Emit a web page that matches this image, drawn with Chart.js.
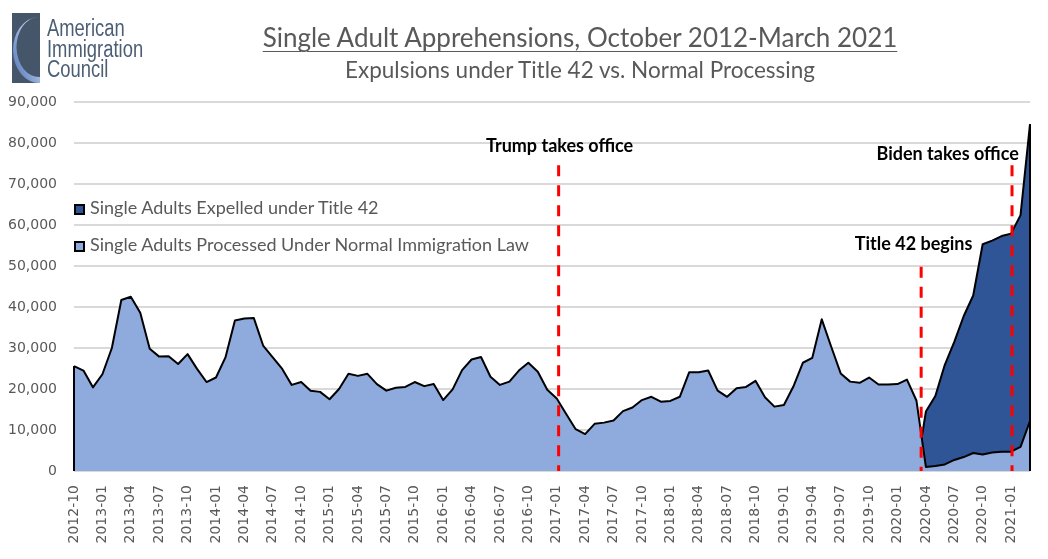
<!DOCTYPE html>
<html>
<head>
<meta charset="utf-8">
<script src="https://cdn.jsdelivr.net/npm/chart.js@4.4.1/dist/chart.umd.min.js"></script>
<style>
  body { margin: 0; background: #fff; }
  #wrap { position: relative; width: 1048px; height: 559px; overflow: hidden; }
  #chart { position: absolute; left: 0; top: 0; }
  .logo { position: absolute; left: 12px; top: 13px; }
  .logo svg { position: absolute; left: 0; top: 0; }
  .logo-text {
    position: absolute; left: 35px; top: 5px; width: 160px;
    font-family: "Liberation Sans", Arial, sans-serif;
    font-size: 23px; line-height: 20.5px; color: #4b5e74;
    transform: scaleX(0.80); transform-origin: left top;
  }
  .title, .subtitle {
    position: absolute; left: 180px; width: 800px; text-align: center;
    font-family: Lato, sans-serif; color: #595959; white-space: nowrap;
  }
  .title { top: 21px; font-size: 26px; text-decoration: underline; text-underline-offset: 4px; text-decoration-thickness: 1px; }
  .subtitle { top: 56px; font-size: 22.5px; }
  .legend { position: absolute; left: 74px; top: 196px; font-family: Lato, sans-serif; font-size: 18px; color: #595959; }
  .legend div { height: 37px; line-height: 22px; white-space: nowrap; }
  .legend span.box {
    display: inline-block; width: 11px; height: 11px; box-sizing: border-box;
    border: 2px solid #000; margin-right: 5px; vertical-align: -1px;
  }
</style>
</head>
<body>
<div id="wrap">
  <canvas id="chart" width="1048" height="559"></canvas>
  <div class="logo">
    <svg width="28" height="70" viewBox="0 0 28 70">
      <defs>
        <linearGradient id="arc" x1="0" y1="1" x2="1" y2="0">
          <stop offset="0" stop-color="#4a70b4"/>
          <stop offset="0.6" stop-color="#a9bfe3"/>
          <stop offset="1" stop-color="#ffffff"/>
        </linearGradient>
      </defs>
      <rect width="28" height="70" fill="#46566a"/>
      <path d="M26 4 A 26 33 0 0 0 28 70 L 28 64 A 21 28 0 0 1 26 4 Z" fill="url(#arc)"/>
    </svg>
    <div class="logo-text">American<br>Immigration<br>Council</div>
  </div>
  <div class="title">Single Adult Apprehensions, October 2012-March 2021</div>
  <div class="subtitle">Expulsions under Title 42 vs. Normal Processing</div>
  <div class="legend">
    <div><span class="box" style="background:#2F5597"></span>Single Adults Expelled under Title 42</div>
    <div><span class="box" style="background:#8FAADC"></span>Single Adults Processed Under Normal Immigration Law</div>
  </div>
</div>
<script>
// Monthly single adult apprehensions, 2012-10 .. 2021-03
const firstMonth = { year: 2012, month: 10 };
const monthCount = 102;

const months = [];
for (let i = 0; i < monthCount; i++) {
    const m = firstMonth.month - 1 + i;
    const y = firstMonth.year + Math.floor(m / 12);
    months.push(y + '-' + String(m % 12 + 1).padStart(2, '0'));
}

// Processed under normal immigration law
const processed = [
    25600, 24500, 20400, 23600, 30000, 41700, 42500, 38600, 29800, 27900,
    28000, 26100, 28500, 24900, 21700, 22800, 27700, 36700, 37200, 37300,
    30500, 27700, 24900, 21000, 21700, 19600, 19300, 17500, 20000, 23700,
    23200, 23700, 21200, 19600, 20300, 20500, 21700, 20700, 21200, 17300,
    19900, 24600, 27200, 27800, 23000, 21000, 21800, 24500, 26400, 24200,
    19800, 17700, 13900, 10200, 9000, 11500, 11800, 12300, 14600, 15500,
    17300, 18100, 16900, 17100, 18100, 24100, 24100, 24500, 19600, 18100,
    20200, 20500, 22000, 18000, 15700, 16100, 20600, 26400, 27600, 37000,
    30300, 23800, 21800, 21500, 22800, 21100, 21100, 21200, 22300, 17200,
    1000, 1200, 1600, 2700, 3400, 4400, 4000, 4500, 4700, 4700,
    5900, 12200
];

// Top edge of the expelled band (expelled + processed), from 2020-03 on
const expelledFrom = '2020-03';
const expelledTop = [0, 14500, 18300, 25900, 31500, 37800, 42800, 55300, 56200, 57300, 57900, 62400, 84600];

const yTicks = [0, 10000, 20000, 30000, 40000, 50000, 60000, 70000, 80000, 90000];

// Event markers (position in months from 2012-10)
const events = [
    { label: 'Trump takes office', at: 51.2, top: 74600, textAt: 51.3, textY: 79300 },
    { label: 'Title 42 begins', at: 89.5, top: 49800, textAt: 88.7, textY: 55400 },
    { label: 'Biden takes office', at: 99.1, top: 74600, textAt: 92.3, textY: 77300 }
];

const startIdx = months.indexOf(expelledFrom);
const expelledLine = months.map((m, i) => i < startIdx ? null : expelledTop[i - startIdx]);

// closes the areas at both ends and draws the event lines
const markers = {
    id: 'markers',
    afterDatasetsDraw(chart) {
        const { ctx, scales: { x, y } } = chart;
        const last = months.length - 1;
        ctx.save();
        ctx.strokeStyle = '#000';
        ctx.lineWidth = 2;
        ctx.beginPath();
        ctx.moveTo(x.getPixelForValue(0), y.getPixelForValue(0));
        ctx.lineTo(x.getPixelForValue(0), y.getPixelForValue(processed[0]));
        ctx.moveTo(x.getPixelForValue(last), y.getPixelForValue(0));
        ctx.lineTo(x.getPixelForValue(last), y.getPixelForValue(expelledLine[last]));
        ctx.stroke();

        ctx.strokeStyle = '#FF0000';
        ctx.lineWidth = 3;
        ctx.setLineDash([11, 9]);
        events.forEach(ev => {
            const px = x.getPixelForValue(ev.at);
            ctx.beginPath();
            ctx.moveTo(px, y.getPixelForValue(ev.top));
            ctx.lineTo(px, y.getPixelForValue(0));
            ctx.stroke();
        });
        ctx.setLineDash([]);

        ctx.fillStyle = '#000';
        ctx.font = 'bold 18px Lato, sans-serif';
        ctx.textAlign = 'center';
        ctx.textBaseline = 'middle';
        events.forEach(ev => {
            ctx.fillText(ev.label, x.getPixelForValue(ev.textAt), y.getPixelForValue(ev.textY));
        });
        ctx.restore();
    }
};

const ctx = document.getElementById('chart').getContext('2d');
new Chart(ctx, {
    type: 'line',
    data: {
        labels: months,
        datasets: [{
            label: 'Single Adults Processed Under Normal Immigration Law',
            data: processed,
            fill: 'origin',
            backgroundColor: '#8FAADC',
            borderColor: '#000',
            borderWidth: 2
        }, {
            label: 'Single Adults Expelled under Title 42',
            data: expelledLine,
            fill: 'origin',
            backgroundColor: '#2F5597',
            borderColor: '#000',
            borderWidth: 2
        }]
    },
    options: {
        responsive: false,
        animation: false,
        devicePixelRatio: 1,
        layout: { padding: { top: 102, right: 18, left: 0, bottom: 0 } },
        elements: {
            point: { radius: 0 },
            line: { tension: 0, borderJoinStyle: 'round' }
        },
        plugins: {
            legend: { display: false },
            tooltip: { enabled: false }
        },
        scales: {
            x: {
                grid: { display: false },
                border: { display: false },
                ticks: {
                    autoSkip: false,
                    minRotation: 90,
                    maxRotation: 90,
                    padding: 6,
                    color: '#595959',
                    font: { family: 'DejaVu Sans', size: 14 },
                    callback: (v, i) => i % 3 === 0 ? months[i] : ''
                },
                afterFit: s => {
                    s.height = 88;
                    s.paddingLeft = 0;
                    s.paddingRight = 0;
                }
            },
            y: {
                min: 0,
                max: 90000,
                afterBuildTicks: s => { s.ticks = yTicks.map(v => ({ value: v })); },
                grid: { color: '#D9D9D9', lineWidth: 2, drawTicks: false },
                border: { display: false },
                ticks: {
                    padding: 17,
                    color: '#595959',
                    font: { family: 'DejaVu Sans', size: 14 },
                    callback: v => v.toLocaleString('en-US')
                },
                afterFit: s => { s.width = 74; }
            }
        }
    },
    plugins: [markers]
});
</script>
</body>
</html>
